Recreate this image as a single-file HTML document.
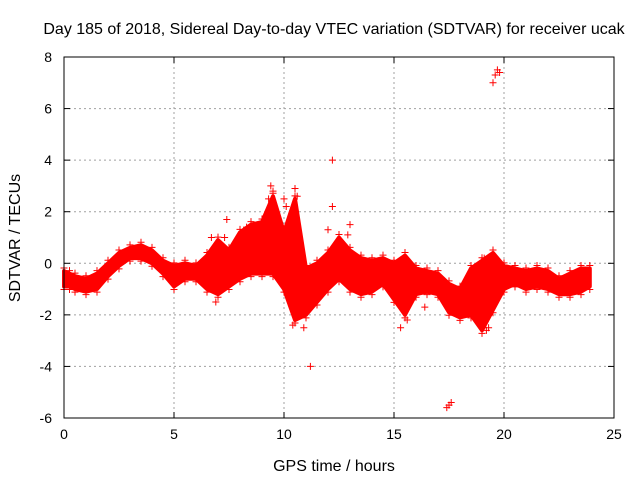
<!DOCTYPE html>
<html><head><meta charset="utf-8"><style>
body{margin:0;background:#fff;}
svg{display:block;font-family:"Liberation Sans",sans-serif;}
</style></head><body>
<svg id="c" width="640" height="480" xmlns="http://www.w3.org/2000/svg"></svg>
<script>
const xTicks=[0,5,10,15,20,25];
const yTicks=[-6,-4,-2,0,2,4,6,8];
const bandTimes=[0,0.25,0.5,1,1.5,2,2.5,3,3.5,4,4.5,5,5.5,6,6.5,7,7.5,8,8.5,9,9.5,10,10.5,11,11.5,12,12.5,13,13.5,14,14.5,15,15.5,16,16.5,17,17.5,18,18.5,19,19.5,20,20.5,21,21.5,22,22.5,23,23.5,23.9];
const bandLow=[-0.9,-0.9,-1.0,-1.1,-1.0,-0.5,-0.1,0.2,0.2,0.0,-0.4,-0.9,-0.6,-0.6,-1.0,-1.2,-0.9,-0.6,-0.4,-0.4,-0.4,-1.0,-2.2,-2.0,-1.5,-1.0,-0.6,-1.0,-1.2,-1.1,-0.8,-1.4,-2.0,-1.2,-1.1,-1.2,-1.9,-2.1,-2.0,-2.6,-1.8,-1.0,-0.8,-1.0,-0.9,-1.0,-1.2,-1.2,-1.1,-0.9];
const bandHigh=[-0.3,-0.4,-0.5,-0.6,-0.4,0.0,0.4,0.6,0.7,0.5,0.1,-0.1,0.0,-0.1,0.3,0.9,0.5,1.2,1.5,1.6,2.6,1.2,2.5,-0.2,0.0,0.4,1.0,0.5,0.2,0.1,0.2,0.0,0.3,-0.2,-0.3,-0.4,-0.8,-1.0,-0.2,0.1,0.4,-0.1,-0.2,-0.3,-0.2,-0.3,-0.6,-0.4,-0.2,-0.2];
const outTimes=[7.4,7.3,8.3,9.4,9.5,9.3,10.0,10.1,10.5,10.6,10.4,11.2,12.2,12.2,12.0,13.0,12.9,15.3,15.6,16.4,17.5,17.4,17.6,19.3,19.5,19.6,19.7,19.8,19.1,19.2,10.9,11.5,6.7,6.9];
const outVals=[1.7,1.0,1.4,3.0,2.8,2.5,2.5,2.2,2.9,2.6,-2.4,-4.0,4.0,2.2,1.3,1.5,1.1,-2.5,-2.2,-1.7,-5.5,-5.6,-5.4,-2.5,7.0,7.3,7.5,7.4,0.2,-2.6,-2.5,-1.3,1.0,-1.5];
const L=64,R=614,T=57,B=418;
const xs=v=>L+(v-0)/25*(R-L);
const ys=v=>B-(v+6)/14*(B-T);
const svg=document.getElementById('c');
const NS='http://www.w3.org/2000/svg';
function mk(tag,attrs,parent){const e=document.createElementNS(NS,tag);for(const k in attrs)e.setAttribute(k,attrs[k]);(parent||svg).appendChild(e);return e;}
xTicks.forEach(t=>{if(t>0&&t<25){const g=mk('line',{x1:xs(t),x2:xs(t),y1:T,y2:B,stroke:'#a0a0a0','stroke-dasharray':'2,3'});

}});
yTicks.forEach(t=>{if(t>-6&&t<8){const g=mk('line',{x1:L,x2:R,y1:ys(t),y2:ys(t),stroke:'#a0a0a0','stroke-dasharray':'2,3'});

}});
let pts=[];
bandTimes.forEach((t,i)=>pts.push(xs(t)+','+ys(bandHigh[i])));
for(let i=bandTimes.length-1;i>=0;i--)pts.push(xs(bandTimes[i])+','+ys(bandLow[i]));
const band=mk('polygon',{points:pts.join(' '),fill:'#ff0000',stroke:'#ff0000','stroke-width':4,'stroke-linejoin':'round'});


function plus(x,y,name){const g=mk('path',{d:`M${x-3.5},${y}h7M${x},${y-3.5}v7`,stroke:'#ff0000','stroke-width':1});

}
bandTimes.forEach((t,i)=>{plus(xs(t),ys(bandHigh[i])-3,'sdtvar-point');plus(xs(t),ys(bandLow[i])+3,'sdtvar-point');});
outTimes.forEach((t,i)=>plus(xs(t),ys(outVals[i]),'sdtvar-outlier'));
const bd=mk('rect',{x:L,y:T,width:R-L,height:B-T,fill:'none',stroke:'#000','stroke-width':1});


xTicks.forEach(t=>{mk('line',{x1:xs(t),x2:xs(t),y1:B,y2:B-6,stroke:'#000'});mk('line',{x1:xs(t),x2:xs(t),y1:T,y2:T+6,stroke:'#000'});
const tx=mk('text',{x:xs(t),y:B+21,'text-anchor':'middle','font-size':14});tx.textContent=t;

});
yTicks.forEach(t=>{mk('line',{x1:L,x2:L+6,y1:ys(t),y2:ys(t),stroke:'#000'});mk('line',{x1:R,x2:R-6,y1:ys(t),y2:ys(t),stroke:'#000'});
const tx=mk('text',{x:L-12,y:ys(t)+5,'text-anchor':'end','font-size':14});tx.textContent=t;

});
const ti=mk('text',{x:334,y:34,'text-anchor':'middle','font-size':16});ti.textContent='Day 185 of 2018, Sidereal Day-to-day VTEC variation (SDTVAR) for receiver ucak';


const xt=mk('text',{x:334,y:471,'text-anchor':'middle','font-size':16});xt.textContent='GPS time / hours';


const yt=mk('text',{x:20,y:238,'text-anchor':'middle','font-size':16,transform:'rotate(-90 20 238)'});yt.textContent='SDTVAR / TECUs';


</script>
</body></html>
